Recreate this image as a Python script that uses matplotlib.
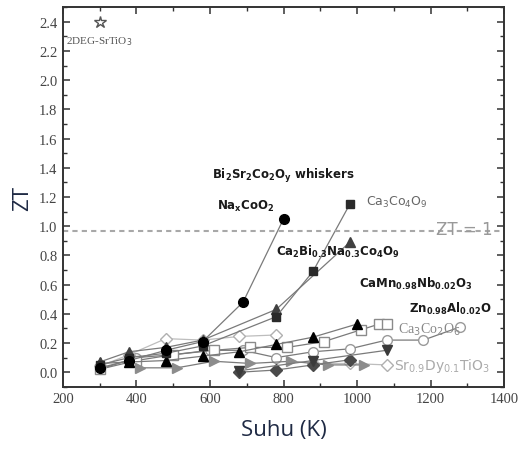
import matplotlib
matplotlib.use("Agg")
import matplotlib.pyplot as plt
from matplotlib.ticker import MultipleLocator, FormatStrFormatter

# ---- data ----
naxcoo2_T = [300, 380, 480, 580, 690, 800]
naxcoo2_ZT = [0.03, 0.08, 0.15, 0.21, 0.48, 1.05]

ca3co4o9_T = [300, 380, 480, 580, 780, 880, 980]
ca3co4o9_ZT = [0.05, 0.10, 0.13, 0.18, 0.38, 0.69, 1.15]

ca2bi_T = [300, 380, 480, 580, 780, 980]
ca2bi_ZT = [0.07, 0.14, 0.17, 0.22, 0.43, 0.89]

znal_T = [300, 380, 480, 580, 680, 780, 880, 1000]
znal_ZT = [0.06, 0.07, 0.08, 0.11, 0.14, 0.19, 0.24, 0.33]

ca3co2o6_T = [300, 400, 500, 610, 710, 810, 910, 1010, 1060, 1080]
ca3co2o6_ZT = [0.02, 0.08, 0.12, 0.15, 0.17, 0.17, 0.21, 0.29, 0.33, 0.33]

opencirc_T = [300, 400, 500, 600, 690, 780, 880, 980, 1080, 1180, 1280]
opencirc_ZT = [0.02, 0.10, 0.12, 0.15, 0.15, 0.10, 0.14, 0.16, 0.22, 0.22, 0.31]

camn_T = [300, 380, 480, 580, 680, 780]
camn_ZT = [0.04, 0.12, 0.23, 0.22, 0.245, 0.255]

srdy_T = [880, 980, 1080]
srdy_ZT = [0.06, 0.06, 0.05]

filldiam_T = [680, 780, 880, 980]
filldiam_ZT = [0.0, 0.015, 0.05, 0.085]

rtri_T = [410, 510, 610, 710, 820, 920, 1020]
rtri_ZT = [0.03, 0.03, 0.075, 0.06, 0.075, 0.05, 0.05]

invtri_T = [680, 880, 1080]
invtri_ZT = [0.01, 0.08, 0.15]

star_T = [300]
star_ZT = [2.4]

zt_one = 0.97

# ---- figure ----
fig = plt.figure(figsize=(5.28, 4.52), dpi=100)
ax = fig.add_axes([0.119, 0.142, 0.836, 0.840])

line_kw = dict(color="#7a7a7a", lw=0.9)
ms = 7

ax.plot(opencirc_T, opencirc_ZT, marker="o", mfc="white", mec="#9a9a9a", ms=ms, **line_kw)
ax.plot(ca3co2o6_T, ca3co2o6_ZT, marker="s", mfc="white", mec="#8a8a8a", ms=ms, **line_kw)
ax.plot(camn_T, camn_ZT, marker="D", mfc="white", mec="#b0b0b0", ms=6, color="#bdbdbd", lw=0.9)
ax.plot(srdy_T, srdy_ZT, marker="D", mfc="white", mec="#b0b0b0", ms=6, color="#bdbdbd", lw=0.9)
ax.plot(rtri_T, rtri_ZT, marker=">", mfc="#8c8c8c", mec="#8c8c8c", ms=ms, **line_kw)
ax.plot(filldiam_T, filldiam_ZT, marker="D", mfc="#4a4a4a", mec="#4a4a4a", ms=6, **line_kw)
ax.plot(invtri_T, invtri_ZT, marker="v", mfc="#3a3a3a", mec="#3a3a3a", ms=ms, **line_kw)
ax.plot(znal_T, znal_ZT, marker="^", mfc="black", mec="black", ms=ms, **line_kw)
ax.plot(ca2bi_T, ca2bi_ZT, marker="^", mfc="#404040", mec="#404040", ms=ms, **line_kw)
ax.plot(ca3co4o9_T, ca3co4o9_ZT, marker="s", mfc="#2a2a2a", mec="#2a2a2a", ms=6, **line_kw)
ax.plot(naxcoo2_T, naxcoo2_ZT, marker="o", mfc="black", mec="black", ms=ms, **line_kw)
ax.plot(star_T, star_ZT, marker="*", mfc="white", mec="#555555", ms=9, ls="none")

ax.axhline(zt_one, color="#a8a8a8", lw=1.5, ls=(0, (2.5, 2)))

ax.set_xlim(200, 1400)
ax.set_ylim(-0.1, 2.5)
ax.xaxis.set_major_locator(MultipleLocator(200))
ax.xaxis.set_minor_locator(MultipleLocator(100))
ax.yaxis.set_major_locator(MultipleLocator(0.2))
ax.yaxis.set_minor_locator(MultipleLocator(0.1))
ax.yaxis.set_major_formatter(FormatStrFormatter("%.1f"))
ax.tick_params(which="both", direction="in", top=True, right=True, colors="#333333")
ax.tick_params(which="major", length=5, width=1.1, pad=4)
ax.tick_params(which="minor", length=3, width=1.0)
for lab in ax.get_xticklabels() + ax.get_yticklabels():
    lab.set_fontfamily("Liberation Serif")
    lab.set_fontsize(10.5)
    lab.set_color("#444444")
for s in ax.spines.values():
    s.set_color("#333333")
    s.set_linewidth(1.4)

ax.set_xlabel("Suhu (K)", fontfamily="Open Sans", fontsize=16, color="#1f2a44", labelpad=10)
ax.set_ylabel("ZT", fontfamily="Open Sans", fontsize=16, color="#1f2a44", labelpad=4)

bold = dict(fontfamily="DejaVu Sans", fontweight="bold", fontsize=8.5, color="#1a1a1a")
ax.text(300, 2.27, r"2DEG-SrTiO$_3$", fontfamily="Liberation Serif", fontsize=8,
        color="#555555", ha="center", va="center")
ax.text(605, 1.35, r"Bi$_\mathbf{2}$Sr$_\mathbf{2}$Co$_\mathbf{2}$O$_\mathbf{y}$ whiskers", va="center", **bold)
ax.text(620, 1.14, r"Na$_\mathbf{x}$CoO$_\mathbf{2}$", va="center", **bold)
ax.text(1025, 1.17, r"Ca$_3$Co$_4$O$_9$", va="center", fontsize=9, color="#666666")
ax.text(1215, 0.98, "ZT = 1", va="center", fontsize=12, color="#999999")
ax.text(780, 0.83, r"Ca$_\mathbf{2}$Bi$_\mathbf{0.3}$Na$_\mathbf{0.3}$Co$_\mathbf{4}$O$_\mathbf{9}$", va="center", **bold)
ax.text(1005, 0.61, r"CaMn$_\mathbf{0.98}$Nb$_\mathbf{0.02}$O$_\mathbf{3}$", va="center", **bold)
ax.text(1140, 0.44, r"Zn$_\mathbf{0.98}$Al$_\mathbf{0.02}$O", va="center", **bold)
ax.text(1110, 0.30, r"Ca$_3$Co$_2$O$_6$", va="center", fontfamily="Liberation Serif",
        fontsize=10, color="#888888")
ax.text(1100, 0.05, r"Sr$_{0.9}$Dy$_{0.1}$TiO$_3$", va="center", fontsize=10, color="#aaaaaa")

fig.savefig("out.png", dpi=100)
